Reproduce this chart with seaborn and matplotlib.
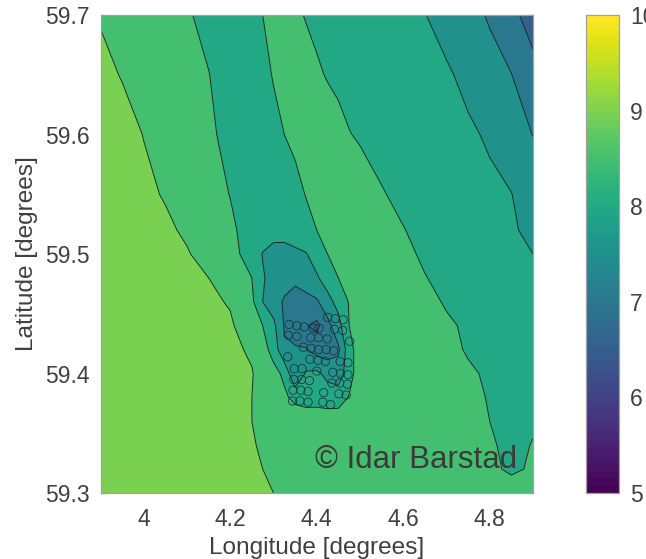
import numpy as np
import seaborn as sns
import matplotlib.pyplot as plt
from matplotlib.cm import ScalarMappable
from matplotlib.colors import Normalize

lon = [3.9, 3.95, 4.0, 4.05, 4.1, 4.15, 4.2, 4.25, 4.275, 4.3, 4.325, 4.35, 4.375,
       4.4, 4.425, 4.45, 4.475, 4.5, 4.55, 4.6, 4.65, 4.7, 4.75, 4.8, 4.85, 4.9]
lat = [59.7, 59.65, 59.6, 59.55, 59.52, 59.5, 59.48, 59.46, 59.44, 59.42, 59.4, 59.38,
       59.36, 59.34, 59.32, 59.3]

# field values, one row per latitude (north to south)
field = [
    [8.97, 8.84, 8.72, 8.63, 8.54, 8.39, 8.20, 8.40, 8.50, 8.62, 8.70, 8.56, 8.48, 8.43, 8.39, 8.35, 8.31, 8.27, 8.18, 8.10, 8.01, 7.85, 7.66, 7.45, 7.12, 6.80],
    [9.10, 8.98, 8.86, 8.75, 8.63, 8.51, 8.31, 8.31, 8.41, 8.52, 8.62, 8.68, 8.63, 8.54, 8.48, 8.44, 8.40, 8.36, 8.28, 8.20, 8.12, 8.05, 7.90, 7.67, 7.51, 7.15],
    [9.30, 9.14, 8.99, 8.85, 8.71, 8.56, 8.40, 8.21, 8.31, 8.41, 8.50, 8.56, 8.63, 8.70, 8.64, 8.58, 8.51, 8.47, 8.39, 8.31, 8.23, 8.15, 8.06, 7.95, 7.72, 7.49],
    [9.30, 9.19, 9.08, 8.97, 8.81, 8.65, 8.49, 8.28, 8.18, 8.22, 8.32, 8.42, 8.51, 8.57, 8.62, 8.67, 8.69, 8.63, 8.52, 8.43, 8.35, 8.26, 8.17, 8.08, 8.01, 7.75],
    [9.35, 9.26, 9.16, 9.07, 8.94, 8.75, 8.57, 8.34, 8.21, 8.11, 8.21, 8.31, 8.41, 8.50, 8.55, 8.60, 8.65, 8.70, 8.60, 8.51, 8.42, 8.33, 8.24, 8.14, 8.05, 7.90],
    [9.40, 9.31, 9.21, 9.12, 9.03, 8.85, 8.65, 8.31, 7.98, 7.90, 7.80, 7.88, 7.97, 8.24, 8.50, 8.55, 8.60, 8.65, 8.65, 8.56, 8.46, 8.37, 8.28, 8.18, 8.09, 8.00],
    [9.40, 9.34, 9.27, 9.18, 9.09, 9.00, 8.74, 8.50, 8.04, 7.85, 7.70, 7.60, 7.79, 7.94, 8.23, 8.50, 8.56, 8.61, 8.70, 8.60, 8.51, 8.43, 8.35, 8.26, 8.18, 8.10],
    [9.40, 9.36, 9.33, 9.25, 9.17, 9.07, 8.97, 8.60, 8.00, 7.72, 7.44, 7.31, 7.31, 7.43, 7.83, 8.17, 8.53, 8.58, 8.66, 8.65, 8.56, 8.48, 8.41, 8.34, 8.27, 8.20],
    [9.40, 9.38, 9.36, 9.30, 9.21, 9.13, 9.05, 8.77, 8.50, 8.13, 7.46, 7.27, 7.03, 6.88, 7.33, 7.82, 8.50, 8.54, 8.63, 8.69, 8.61, 8.53, 8.47, 8.41, 8.36, 8.30],
    [9.40, 9.39, 9.38, 9.34, 9.25, 9.16, 9.08, 8.95, 8.70, 8.31, 7.56, 7.55, 7.54, 7.28, 7.24, 7.42, 8.30, 8.78, 8.70, 8.69, 8.63, 8.56, 8.48, 8.44, 8.40, 8.35],
    [9.40, 9.39, 9.38, 9.35, 9.26, 9.18, 9.09, 9.02, 8.86, 8.66, 8.40, 7.50, 8.05, 8.10, 7.85, 7.72, 8.30, 8.78, 8.70, 8.67, 8.66, 8.60, 8.53, 8.47, 8.43, 8.40],
    [9.40, 9.39, 9.38, 9.36, 9.27, 9.20, 9.12, 9.00, 8.86, 8.72, 8.59, 8.36, 8.28, 8.32, 8.27, 8.28, 8.53, 8.60, 8.62, 8.67, 8.66, 8.61, 8.54, 8.49, 8.48, 8.45],
    [9.40, 9.38, 9.36, 9.32, 9.24, 9.16, 9.08, 9.00, 8.96, 8.92, 8.88, 8.84, 8.80, 8.76, 8.76, 8.76, 8.76, 8.78, 8.78, 8.76, 8.70, 8.63, 8.56, 8.50, 8.42, 8.45],
    [9.40, 9.37, 9.35, 9.28, 9.21, 9.14, 9.07, 9.02, 8.97, 8.93, 8.90, 8.88, 8.86, 8.85, 8.84, 8.84, 8.84, 8.84, 8.82, 8.79, 8.75, 8.69, 8.63, 8.56, 8.38, 8.52],
    [9.40, 9.36, 9.30, 9.24, 9.18, 9.12, 9.07, 9.03, 9.00, 8.97, 8.95, 8.93, 8.92, 8.90, 8.90, 8.90, 8.90, 8.90, 8.88, 8.85, 8.80, 8.75, 8.68, 8.55, 8.46, 8.53],
    [9.40, 9.34, 9.28, 9.22, 9.16, 9.11, 9.07, 9.04, 9.02, 9.00, 8.98, 8.97, 8.96, 8.95, 8.95, 8.94, 8.94, 8.94, 8.92, 8.90, 8.86, 8.80, 8.74, 8.68, 8.62, 8.60],
]
levels = [6.5, 7, 7.5, 8, 8.5, 9, 9.5, 10]

station_lon = [4.336, 4.354, 4.371, 4.392, 4.405, 4.425, 4.443, 4.461, 4.441, 4.460,
               4.334, 4.354, 4.386, 4.404, 4.424, 4.476, 4.369, 4.387, 4.404, 4.422,
               4.439, 4.333, 4.384, 4.403, 4.420, 4.454, 4.472, 4.348, 4.366, 4.400,
               4.437, 4.455, 4.472, 4.347, 4.365, 4.383, 4.435, 4.453, 4.471, 4.345,
               4.363, 4.380, 4.416, 4.451, 4.468, 4.344, 4.361, 4.380, 4.414, 4.432]
station_lat = [59.441, 59.440, 59.439, 59.438, 59.438, 59.447, 59.446, 59.445, 59.437, 59.436,
               59.432, 59.431, 59.430, 59.430, 59.429, 59.427, 59.422, 59.421, 59.420, 59.420,
               59.419, 59.414, 59.412, 59.411, 59.410, 59.410, 59.409, 59.404, 59.404, 59.402,
               59.401, 59.400, 59.399, 59.395, 59.395, 59.394, 59.392, 59.392, 59.391, 59.386,
               59.386, 59.385, 59.384, 59.383, 59.382, 59.377, 59.377, 59.376, 59.376, 59.374]

x_ticks = [4, 4.2, 4.4, 4.6, 4.8]
y_ticks = [59.3, 59.4, 59.5, 59.6, 59.7]
cbar_ticks = [5, 6, 7, 8, 9, 10]

sns.set_style("white")
plt.rcParams['font.family'] = ['Liberation Sans', 'DejaVu Sans']

W, H = 646, 559
fig = plt.figure(figsize=(W / 100, H / 100), dpi=100)
ax = fig.add_axes([100.5 / W, 1 - 493 / H, 432.5 / W, 478 / H])
cax = fig.add_axes([586 / W, 1 - 493 / H, 33 / W, 478 / H])

cmap = sns.color_palette("viridis", as_cmap=True)
norm = Normalize(5, 10)
band_colors = [cmap(norm(v)) for v in levels[:-1]]

z = np.array(field)[::-1]
y = np.array(lat)[::-1]
ax.contourf(lon, y, z, levels=levels, colors=band_colors)
ax.contour(lon, y, z, levels=levels, colors='#1a2a2a', linewidths=0.7)

sns.scatterplot(x=station_lon, y=station_lat, ax=ax, s=36, facecolor='none',
                edgecolor='#1c3a3a', linewidth=0.6, legend=False)

ax.text(4.396, 59.328, '\u00a9 Idar Barstad', fontsize=22.5, color='#3a3a3a', va='center')

ax.set_xlim(3.9, 4.9)
ax.set_ylim(59.3, 59.7)
ax.set_xticks(x_ticks)
ax.set_xticklabels(['4', '4.2', '4.4', '4.6', '4.8'])
ax.set_yticks(y_ticks)
ax.set_yticklabels(['59.3', '59.4', '59.5', '59.6', '59.7'])
ax.tick_params(direction='in', length=4.5, width=0.8, color='#555555', labelcolor='#404040',
               labelsize=16.5, top=True, right=True, bottom=True, left=True, pad=8)
ax.tick_params(axis='x', pad=11)
ax.set_xlabel('Longitude [degrees]', fontsize=17.6, color='#404040', labelpad=4)
ax.set_ylabel('Latitude [degrees]', fontsize=17.6, color='#404040', labelpad=5)
for sp in ax.spines.values():
    sp.set_color('#a0a0a0')
    sp.set_linewidth(0.9)

cb = fig.colorbar(ScalarMappable(norm=norm, cmap=plt.get_cmap('viridis', 64)), cax=cax)
cb.set_ticks(cbar_ticks)
cb.ax.tick_params(direction='in', length=4.5, width=0.8, color='#555555', labelcolor='#404040',
                  labelsize=16.5, left=True, right=True, pad=8)
cb.outline.set_edgecolor('#a0a0a0')
cb.outline.set_linewidth(0.9)

fig.savefig('out.png', dpi=100)
